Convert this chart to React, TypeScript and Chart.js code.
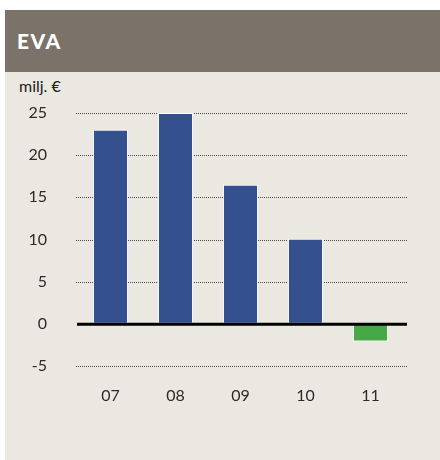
import React, { useEffect, useRef } from "react";
import { Chart, registerables } from "chart.js";

Chart.register(...registerables);

const categories = ["07", "08", "09", "10", "11"];
const evaValues = [23, 25, 16.5, 10.1, -2.1];
const yTicks = [-5, 0, 5, 10, 15, 20, 25];
const title = "EVA";
const unitLabel = "milj. €";

const BLUE = "#35508f";
const GREEN = "#47a846";
const FONT = "Lato, 'Open Sans', sans-serif";

const gridPlugin = {
  id: "customGrid",
  beforeDatasetsDraw(chart: any) {
    const { ctx, chartArea, scales } = chart;
    const y = scales.y;
    ctx.save();
    ctx.strokeStyle = "#4a4a4a";
    ctx.lineWidth = 1;
    ctx.setLineDash([1, 1]);
    for (const v of yTicks) {
      if (v === 0) continue;
      const py = Math.round(y.getPixelForValue(v)) + 0.5;
      ctx.beginPath();
      ctx.moveTo(chartArea.left - 2, py);
      ctx.lineTo(chartArea.right + 4, py);
      ctx.stroke();
    }
    ctx.restore();
  },
  afterDatasetsDraw(chart: any) {
    const { ctx, chartArea, scales } = chart;
    const py = scales.y.getPixelForValue(0);
    ctx.save();
    ctx.strokeStyle = "#000";
    ctx.lineWidth = 3;
    ctx.beginPath();
    ctx.moveTo(chartArea.left - 1, py + 0.5);
    ctx.lineTo(chartArea.right + 4, py + 0.5);
    ctx.stroke();
    ctx.restore();
  },
};

function EvaChart() {
  const ref = useRef<HTMLCanvasElement>(null);
  useEffect(() => {
    if (!ref.current) return;
    const chart = new Chart(ref.current, {
      type: "bar",
      data: {
        labels: categories,
        datasets: [
          {
            data: evaValues,
            backgroundColor: evaValues.map((v) => (v < 0 ? GREEN : BLUE)),
            borderColor: "#ffffff",
            borderWidth: 1,
            borderSkipped: false,
            categoryPercentage: 1,
            barPercentage: 0.54,
          },
        ],
      },
      options: {
        animation: false,
        responsive: false,
        maintainAspectRatio: false,
        layout: { padding: { top: 113, right: 37, bottom: 0, left: 0 } },
        plugins: {
          legend: { display: false },
          tooltip: { enabled: false },
        },
        scales: {
          x: {
            grid: { display: false, drawTicks: false },
            border: { display: false },
            ticks: {
              color: "#2b2b2b",
              font: { family: FONT, size: 16, weight: 400 },
              padding: 20,
            },
            afterFit: (s: any) => {
              s.height = 94;
            },
          },
          y: {
            min: -5,
            max: 25,
            grid: { display: false, drawTicks: false },
            border: { display: false },
            afterBuildTicks: (s: any) => {
              s.ticks = yTicks.map((v) => ({ value: v }));
            },
            ticks: {
              color: "#2b2b2b",
              font: { family: FONT, size: 16, weight: 400 },
              padding: 31,
            },
            afterFit: (s: any) => {
              s.width = 78;
            },
          },
        },
      },
      plugins: [gridPlugin],
    });
    return () => chart.destroy();
  }, []);
  return (
    <canvas
      ref={ref}
      width={440}
      height={460}
      style={{ position: "absolute", left: 0, top: 0, width: 440, height: 460 }}
    />
  );
}

export default function App() {
  return (
    <div
      style={{
        position: "fixed",
        left: 0,
        top: 0,
        width: 440,
        height: 460,
        background: "#ffffff",
        overflow: "hidden",
      }}
    >
      <div
        style={{
          position: "absolute",
          left: 5,
          top: 10,
          width: 435,
          height: 450,
          background: "#ebe7e1",
        }}
      />
      <div
        style={{
          position: "absolute",
          left: 5,
          top: 10,
          width: 435,
          height: 62,
          background: "#7b7269",
        }}
      />
      <div
        style={{
          position: "absolute",
          left: 17,
          top: 29,
          color: "#ffffff",
          fontFamily: FONT,
          fontWeight: 900,
          fontSize: 21,
          lineHeight: "24px",
          letterSpacing: 1.5,
        }}
      >
        {title}
      </div>
      <div
        style={{
          position: "absolute",
          left: 19,
          top: 76,
          color: "#222",
          fontFamily: FONT,
          fontWeight: 400,
          fontSize: 16,
          lineHeight: "20px",
        }}
      >
        {unitLabel}
      </div>
      <EvaChart />
    </div>
  );
}
